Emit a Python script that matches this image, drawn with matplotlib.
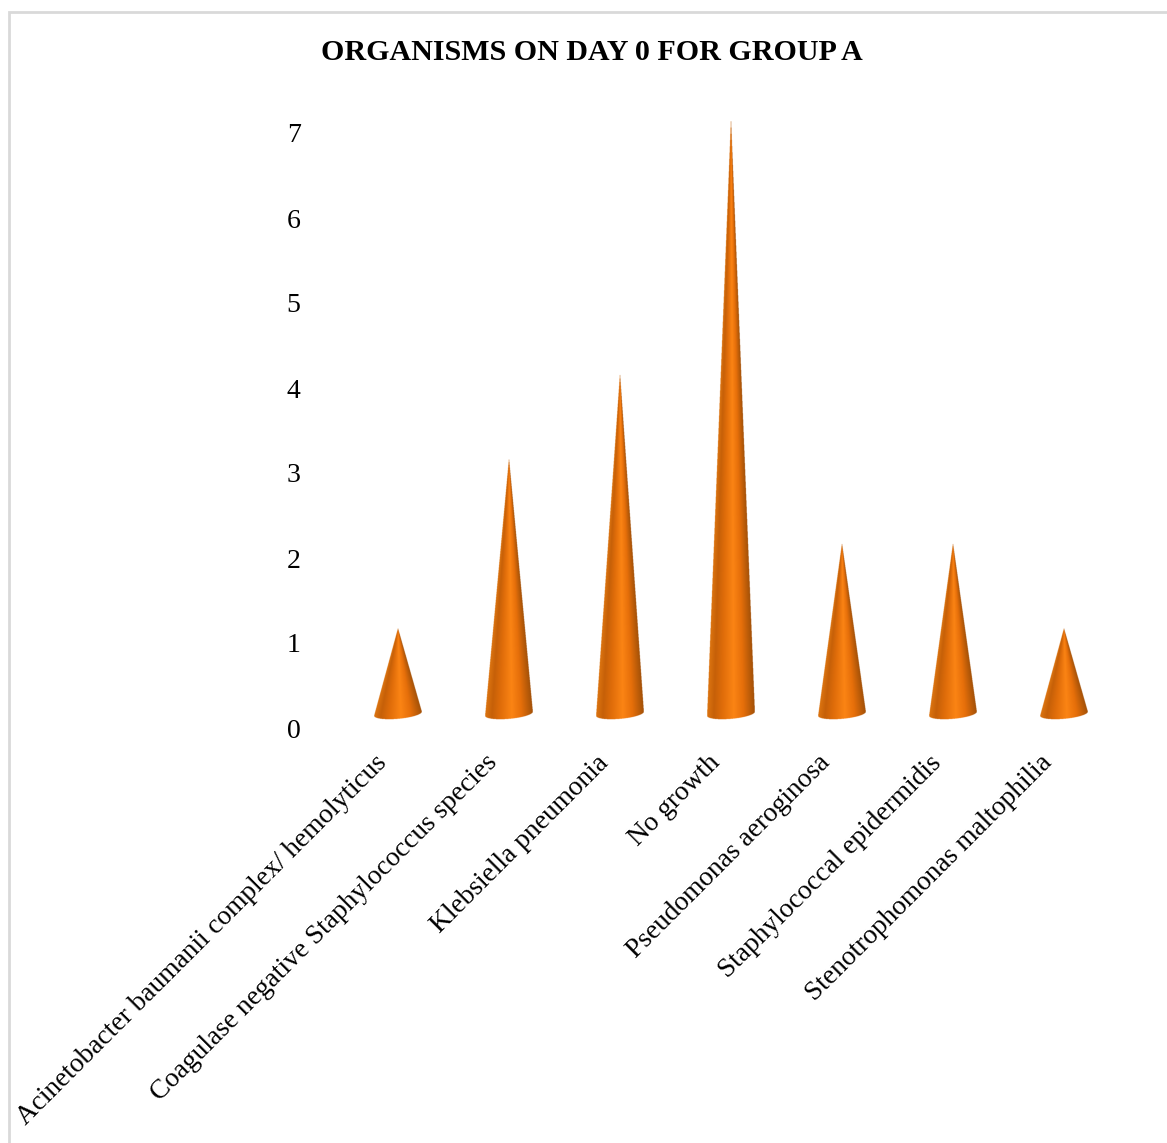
import numpy as np
from matplotlib import pyplot as plt
from matplotlib.colors import LinearSegmentedColormap
from matplotlib.patches import Rectangle
from matplotlib.transforms import ScaledTranslation

organisms = ['Acinetobacter baumanii complex/ hemolyticus',
             'Coagulase negative Staphylococcus species',
             'Klebsiella pneumonia',
             'No growth',
             'Pseudomonas aeroginosa',
             'Staphylococcal epidermidis',
             'Stenotrophomonas maltophilia']
counts = [1, 3, 4, 7, 2, 2, 1]
y_ticks = [0, 1, 2, 3, 4, 5, 6, 7]

W, H = 1167, 1143
plt.rcParams['font.family'] = ['Liberation Serif', 'DejaVu Serif']

cone_cmap = LinearSegmentedColormap.from_list('cone', [
    (0.00, '#dc7410'), (0.14, '#c66008'), (0.32, '#e06d0a'),
    (0.56, '#fb8414'), (0.76, '#e66f0a'), (1.00, '#a35108')])

fig = plt.figure(figsize=(W / 100, H / 100), dpi=100)
fig.add_artist(Rectangle((9 / W, -0.01), 1.1, 1 - 12 / H + 0.01, transform=fig.transFigure,
                         fill=False, ec='#d9d9d9', lw=2))

# one category = 111 px, one count = 85 px
ax = fig.add_axes([342.2 / W, (H - 728) / H, 777 / W, 612 / H])


def cone(x, v, floor=0.17, rx=0.212, ry=0.06, tilt=0.024):
    # supersampled image of the cone, so the outline comes out smooth
    tip = v + floor
    y0, y1 = floor - ry - tilt, tip
    dxs = np.linspace(-rx, rx, 4 * 48)
    ys = np.linspace(y0, y1, int(4 * 85 * (y1 - y0)))
    dx, y = np.meshgrid(dxs, ys)
    left = rx * (tip - y) / (tip - floor + tilt)
    right = rx * (tip - y) / (tip - floor - tilt)
    half = np.where(dx < 0, left, right)
    side = np.abs(dx) <= half
    side &= np.where(dx < 0, y >= floor - tilt, y >= floor + tilt)
    ellipse = (dx / rx) ** 2 + ((y - floor - tilt * dx / rx) / ry) ** 2 <= 1
    u = np.where(y >= floor, 0.5 + dx / (2 * np.maximum(half, 1e-6)), 0.5 + dx / (2 * rx))
    rgba = cone_cmap(np.clip(u, 0, 1))
    rgba[..., 3] = (side | ellipse).astype(float)
    ax.imshow(rgba, extent=(x - rx, x + rx, y0, y1), origin='lower', aspect='auto', clip_on=False, zorder=2)


for i, v in enumerate(counts):
    cone(i, v)

ax.set_xlim(-0.5, 6.5)
ax.set_ylim(0, 7.2)
for s in ax.spines.values():
    s.set_visible(False)
ax.patch.set_alpha(0)

ax.set_yticks(y_ticks)
ax.set_yticklabels([str(t) for t in y_ticks], fontsize=20)
ax.set_xticks(range(len(organisms)))
ax.set_xticklabels(organisms, fontsize=19.7, rotation=45, ha='right', va='top', rotation_mode='anchor')
ax.tick_params(axis='both', length=0)
ax.tick_params(axis='y', pad=30)
ax.tick_params(axis='x', pad=16)
shift = ScaledTranslation(-23.7 / 100, 0, fig.dpi_scale_trans)
for lab in ax.get_xticklabels():
    lab.set_transform(lab.get_transform() + shift)

fig.text(592 / W, 1 - 52 / H, 'ORGANISMS ON DAY 0 FOR GROUP A', fontsize=21.6, fontweight='bold',
         ha='center', va='center')

fig.savefig('out.png', dpi=100)
